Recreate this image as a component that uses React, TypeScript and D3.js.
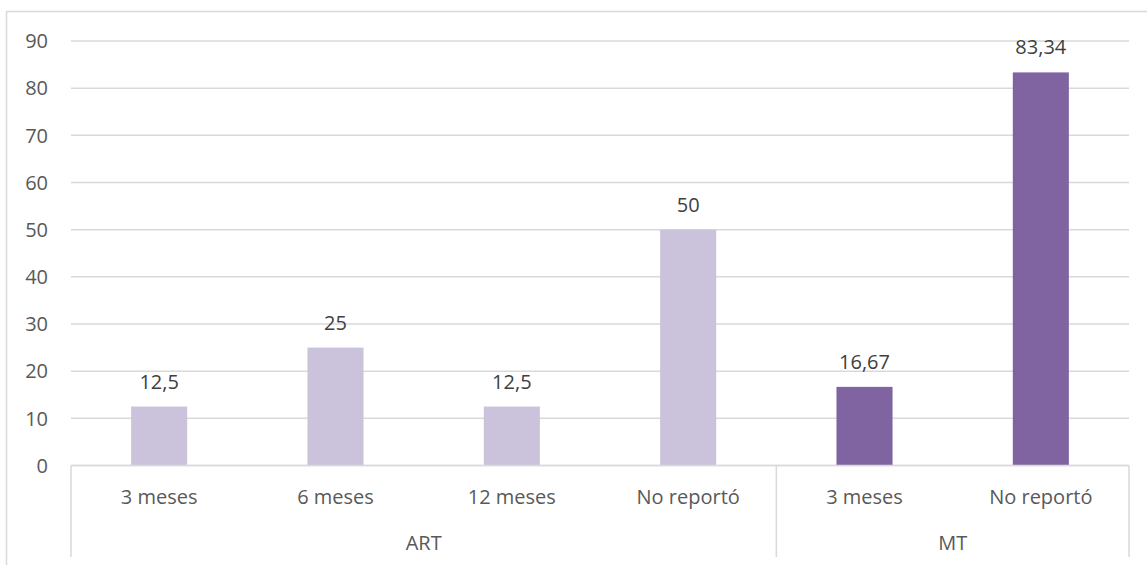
import React from "react";
import * as d3 from "d3";

// Recurrence period by treatment group (percent)
const categories = ["3 meses", "6 meses", "12 meses", "No reportó", "3 meses", "No reportó"];
const groups = ["ART", "ART", "ART", "ART", "MT", "MT"];
const values = [12.5, 25, 12.5, 50, 16.67, 83.34];
const valueLabels = ["12,5", "25", "12,5", "50", "16,67", "83,34"];
const yTicks = [0, 10, 20, 30, 40, 50, 60, 70, 80, 90];
const groupNames = ["ART", "MT"];
const groupColors: Record<string, string> = { ART: "#CBC2DC", MT: "#8064A2" };

const W = 1147;
const H = 565;
const left = 71;
const right = 1129;
const top = 41;
const bottom = 465.5;
const FONT = "'Open Sans', 'DejaVu Sans', sans-serif";
const TEXT = "#595959";
const GRID = "#D9D9D9";

export default function App() {
  const idx = categories.map((_, i) => i);
  const x = d3
    .scaleBand<number>()
    .domain(idx)
    .range([left, right])
    .paddingInner(0.682)
    .paddingOuter(0.341);
  const slot = d3.scaleLinear().domain([0, categories.length]).range([left, right]);
  const y = d3.scaleLinear().domain([0, 90]).range([bottom, top]);

  // group spans (start index, end index)
  const spans = groupNames.map((g) => {
    const ids = idx.filter((i) => groups[i] === g);
    return { name: g, start: d3.min(ids)!, end: d3.max(ids)! + 1 };
  });

  const axisBottom = 557;

  return (
    <svg
      width={W}
      height={H}
      style={{ position: "absolute", left: 0, top: 0, background: "#fff" }}
      fontFamily={FONT}
    >
      {/* chart frame */}
      <rect x={6.5} y={11.5} width={W + 20} height={H + 20} fill="#fff" stroke={GRID} strokeWidth={1.5} />

      {/* gridlines */}
      {yTicks.map((t) => (
        <line key={t} x1={left} x2={right} y1={y(t)} y2={y(t)} stroke={GRID} strokeWidth={1.5} />
      ))}

      {/* y tick labels */}
      {yTicks.map((t) => (
        <text key={t} x={48} y={y(t)} dy="0.36em" textAnchor="end" fontSize={20} fill={TEXT}>
          {t}
        </text>
      ))}

      {/* bars */}
      {idx.map((i) => (
        <rect
          key={i}
          x={x(i)}
          y={y(values[i])}
          width={x.bandwidth()}
          height={y(0) - y(values[i])}
          fill={groupColors[groups[i]]}
        />
      ))}

      {/* value labels */}
      {idx.map((i) => (
        <text
          key={i}
          x={x(i)! + x.bandwidth() / 2}
          y={y(values[i]) - 18}
          textAnchor="middle"
          fontSize={20}
          fill="#404040"
        >
          {valueLabels[i]}
        </text>
      ))}

      {/* category axis */}
      <line x1={left} x2={right} y1={bottom} y2={bottom} stroke={GRID} strokeWidth={1.5} />
      {[0, ...spans.map((s) => s.end)].map((b, k) => (
        <line key={k} x1={slot(b)} x2={slot(b)} y1={bottom} y2={axisBottom} stroke={GRID} strokeWidth={1.5} />
      ))}
      {idx.map((i) => (
        <text key={i} x={x(i)! + x.bandwidth() / 2} y={504} textAnchor="middle" fontSize={20} fill={TEXT}>
          {categories[i]}
        </text>
      ))}
      {spans.map((s) => (
        <text key={s.name} x={(slot(s.start) + slot(s.end)) / 2} y={550} textAnchor="middle" fontSize={20} fill={TEXT}>
          {s.name}
        </text>
      ))}
    </svg>
  );
}
